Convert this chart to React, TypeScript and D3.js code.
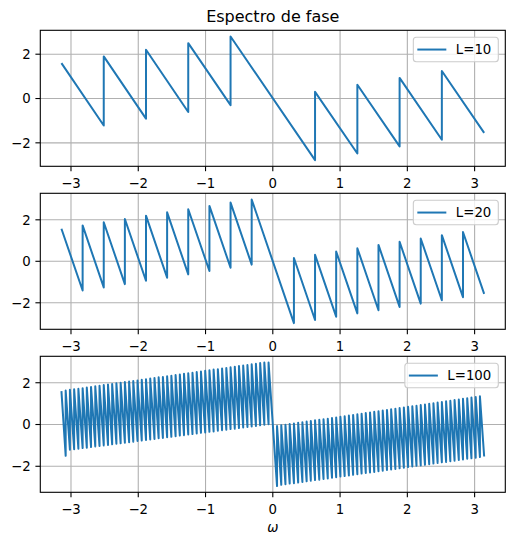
import React from "react";
import * as d3 from "d3";

// ---------- data ----------
const TITLE = "Espectro de fase";
const X_LABEL = "ω";
const X_TICKS = [-3, -2, -1, 0, 1, 2, 3];
const Y_TICKS = [-2, 0, 2];
const SERIES_LABELS = ["L=10", "L=20", "L=100"];

// L=10: segment boundaries (jump positions), value at start and end of each segment
const BREAKS_L10 = [-3.142, -2.513, -1.885, -1.257, -0.628, 0.628, 1.257, 1.885, 2.513, 3.142];
const TOPS_L10 = [1.6, 1.9, 2.2, 2.5, 2.8, 0.3, 0.62, 0.93, 1.24];
const BOTTOMS_L10 = [-1.22, -0.91, -0.61, -0.3, -2.78, -2.48, -2.16, -1.86, -1.55];

// L=20
const BREAKS_L20 = [
  -3.142, -2.827, -2.513, -2.199, -1.885, -1.571, -1.257, -0.942, -0.628, -0.314,
  0.314, 0.628, 0.942, 1.257, 1.571, 1.885, 2.199, 2.513, 2.827, 3.142,
];
const TOPS_L20 = [
  1.57, 1.73, 1.88, 2.04, 2.2, 2.36, 2.51, 2.67, 2.83, 2.98,
  0.16, 0.31, 0.47, 0.63, 0.79, 0.94, 1.1, 1.26, 1.41,
];
const BOTTOMS_L20 = [
  -1.41, -1.26, -1.1, -0.94, -0.79, -0.63, -0.47, -0.31, -0.16, -2.98,
  -2.83, -2.67, -2.51, -2.36, -2.2, -2.04, -1.88, -1.73, -1.57,
];

// L=100
const BREAKS_L100 = [
  -3.142, -3.079, -3.016, -2.953, -2.890, -2.827, -2.765, -2.702, -2.639, -2.576,
  -2.513, -2.450, -2.388, -2.325, -2.262, -2.199, -2.136, -2.074, -2.011, -1.948,
  -1.885, -1.822, -1.759, -1.697, -1.634, -1.571, -1.508, -1.445, -1.382, -1.320,
  -1.257, -1.194, -1.131, -1.068, -1.005, -0.942, -0.880, -0.817, -0.754, -0.691,
  -0.628, -0.565, -0.503, -0.440, -0.377, -0.314, -0.251, -0.188, -0.126, -0.063,
  0.063, 0.126, 0.188, 0.251, 0.314, 0.377, 0.440, 0.503, 0.565, 0.628,
  0.691, 0.754, 0.817, 0.880, 0.942, 1.005, 1.068, 1.131, 1.194, 1.257,
  1.320, 1.382, 1.445, 1.508, 1.571, 1.634, 1.697, 1.759, 1.822, 1.885,
  1.948, 2.011, 2.074, 2.136, 2.199, 2.262, 2.325, 2.388, 2.450, 2.513,
  2.576, 2.639, 2.702, 2.765, 2.827, 2.890, 2.953, 3.016, 3.079, 3.142,
];
const TOPS_L100 = [
  1.60, 1.63, 1.66, 1.69, 1.71, 1.74, 1.77, 1.80, 1.83, 1.86,
  1.89, 1.91, 1.94, 1.97, 2.00, 2.03, 2.06, 2.08, 2.11, 2.14,
  2.17, 2.20, 2.23, 2.26, 2.28, 2.31, 2.34, 2.37, 2.40, 2.43,
  2.45, 2.48, 2.51, 2.54, 2.57, 2.60, 2.63, 2.65, 2.68, 2.71,
  2.74, 2.77, 2.80, 2.82, 2.85, 2.88, 2.91, 2.94, 2.97,
  2.97,
  -0.07, -0.04, -0.01, 0.02, 0.05, 0.08, 0.11, 0.14, 0.17, 0.20,
  0.23, 0.25, 0.28, 0.31, 0.34, 0.37, 0.40, 0.43, 0.46, 0.49,
  0.52, 0.55, 0.58, 0.61, 0.64, 0.67, 0.70, 0.73, 0.76, 0.79,
  0.82, 0.85, 0.87, 0.90, 0.93, 0.96, 0.99, 1.02, 1.05, 1.08,
  1.11, 1.14, 1.17, 1.20, 1.23, 1.26, 1.29, 1.32, 1.35,
];
const BOTTOMS_L100 = [
  -1.50, -1.21, -1.18, -1.16, -1.13, -1.11, -1.08, -1.05, -1.03, -1.00,
  -0.98, -0.95, -0.92, -0.90, -0.87, -0.85, -0.82, -0.79, -0.77, -0.74,
  -0.72, -0.69, -0.66, -0.64, -0.61, -0.59, -0.56, -0.53, -0.51, -0.48,
  -0.46, -0.43, -0.40, -0.38, -0.35, -0.33, -0.30, -0.27, -0.25, -0.22,
  -0.20, -0.17, -0.14, -0.12, -0.09, -0.07, -0.04, -0.01, 0.01,
  -2.95,
  -2.89, -2.86, -2.83, -2.81, -2.78, -2.75, -2.72, -2.69, -2.66, -2.64,
  -2.61, -2.58, -2.55, -2.52, -2.49, -2.47, -2.44, -2.41, -2.38, -2.35,
  -2.32, -2.30, -2.27, -2.24, -2.21, -2.18, -2.15, -2.13, -2.10, -2.07,
  -2.04, -2.01, -1.98, -1.96, -1.93, -1.90, -1.87, -1.84, -1.81, -1.79,
  -1.76, -1.73, -1.70, -1.67, -1.64, -1.62, -1.59, -1.56, -1.53,
];

const PANELS = [
  { label: SERIES_LABELS[0], breaks: BREAKS_L10, tops: TOPS_L10, bottoms: BOTTOMS_L10 },
  { label: SERIES_LABELS[1], breaks: BREAKS_L20, tops: TOPS_L20, bottoms: BOTTOMS_L20 },
  { label: SERIES_LABELS[2], breaks: BREAKS_L100, tops: TOPS_L100, bottoms: BOTTOMS_L100 },
];

// ---------- layout & style ----------
const W = 515;
const H = 545;
const AX_LEFT = 40.3;
const AX_RIGHT = 505.3;
const AX_TOPS = [30.3, 193.3, 356.3];
const AX_H = 136;
const FONT = "'DejaVu Sans', sans-serif";
const FS = 13.3;
const TITLE_FS = 16;
const BLUE = "#1f77b4";
const GRID = "#b0b0b0";
const LW = 2.0;

const ADV: Record<string, number> = {
  L: 0.557, "=": 0.838, "0": 0.636, "1": 0.636, "2": 0.636, "3": 0.636,
  "4": 0.636, "5": 0.636, "6": 0.636, "7": 0.636, "8": 0.636, "9": 0.636,
};
const textWidth = (s: string, fs: number) =>
  s.split("").reduce((a, c) => a + (ADV[c] ?? 0.6), 0) * fs;

function Panel({ idx, panel, showXLabel }: any) {
  const top = AX_TOPS[idx];
  const bottom = top + AX_H;
  const { breaks, tops, bottoms, label } = panel;

  const x0 = breaks[0];
  const x1 = breaks[breaks.length - 1];
  const xPad = (x1 - x0) * 0.05;
  const x = d3.scaleLinear().domain([x0 - xPad, x1 + xPad]).range([AX_LEFT, AX_RIGHT]);

  const allY = [...tops, ...bottoms];
  const [yMin, yMax] = d3.extent(allY) as [number, number];
  const yPad = (yMax - yMin) * 0.05;
  const y = d3.scaleLinear().domain([yMin - yPad, yMax + yPad]).range([bottom, top]);

  const pts: [number, number][] = [];
  for (let i = 0; i < tops.length; i++) {
    pts.push([breaks[i], tops[i]]);
    pts.push([breaks[i + 1], bottoms[i]]);
  }
  const line = d3
    .line<[number, number]>()
    .x((d) => x(d[0]))
    .y((d) => y(d[1]));

  // legend
  const boxRight = AX_RIGHT - 7;
  const boxTop = top + 7;
  const boxH = 24.5;
  const tw = textWidth(label, FS);
  const textEnd = boxRight - 7;
  const textStart = textEnd - tw;
  const lineEnd = textStart - 9.5;
  const lineStart = lineEnd - 29;
  const boxLeft = lineStart - 4;
  const cy = boxTop + boxH / 2;

  const clipId = `clip${idx}`;

  return (
    <g>
      <defs>
        <clipPath id={clipId}>
          <rect x={AX_LEFT} y={top} width={AX_RIGHT - AX_LEFT} height={AX_H} />
        </clipPath>
      </defs>
      {/* grid */}
      {X_TICKS.map((t) => (
        <line key={"gx" + t} x1={x(t)} x2={x(t)} y1={top} y2={bottom} stroke={GRID} strokeWidth={1.1} />
      ))}
      {Y_TICKS.map((t) => (
        <line key={"gy" + t} x1={AX_LEFT} x2={AX_RIGHT} y1={y(t)} y2={y(t)} stroke={GRID} strokeWidth={1.1} />
      ))}
      {/* data */}
      <path
        d={line(pts) || ""}
        fill="none"
        stroke={BLUE}
        strokeWidth={LW}
        strokeLinejoin="round"
        clipPath={`url(#${clipId})`}
      />
      {/* spines */}
      <rect x={AX_LEFT} y={top} width={AX_RIGHT - AX_LEFT} height={AX_H} fill="none" stroke="#000" strokeWidth={1.1} />
      {/* x ticks */}
      {X_TICKS.map((t) => (
        <g key={"tx" + t}>
          <line x1={x(t)} x2={x(t)} y1={bottom} y2={bottom + 4.9} stroke="#000" strokeWidth={1.1} />
          <text x={x(t)} y={bottom + 21.2} textAnchor="middle" fontFamily={FONT} fontSize={FS} fill="#000">
            {t < 0 ? "\u2212" + Math.abs(t) : String(t)}
          </text>
        </g>
      ))}
      {/* y ticks */}
      {Y_TICKS.map((t) => (
        <g key={"ty" + t}>
          <line x1={AX_LEFT - 4.9} x2={AX_LEFT} y1={y(t)} y2={y(t)} stroke="#000" strokeWidth={1.1} />
          <text x={AX_LEFT - 9.7} y={y(t) + 4.8} textAnchor="end" fontFamily={FONT} fontSize={FS} fill="#000">
            {t < 0 ? "\u2212" + Math.abs(t) : String(t)}
          </text>
        </g>
      ))}
      {/* legend */}
      <rect
        x={boxLeft}
        y={boxTop}
        width={boxRight - boxLeft}
        height={boxH}
        rx={3}
        fill="#ffffff"
        fillOpacity={0.8}
        stroke="#cccccc"
        strokeWidth={1.1}
      />
      <line x1={lineStart} x2={lineEnd} y1={cy} y2={cy} stroke={BLUE} strokeWidth={LW} />
      <text x={textStart} y={cy + 4.8} fontFamily={FONT} fontSize={FS} fill="#000">
        {label}
      </text>
      {showXLabel && (
        <text
          x={(AX_LEFT + AX_RIGHT) / 2}
          y={531.5}
          textAnchor="middle"
          fontFamily={FONT}
          fontStyle="italic"
          fontSize={FS}
          fill="#000"
        >
          {X_LABEL}
        </text>
      )}
    </g>
  );
}

export default function App() {
  return (
    <svg
      width={W}
      height={H}
      viewBox={`0 0 ${W} ${H}`}
      style={{ position: "absolute", left: 0, top: 0, background: "#fff" }}
    >
      <rect x={0} y={0} width={W} height={H} fill="#fff" />
      <text
        x={(AX_LEFT + AX_RIGHT) / 2}
        y={22.3}
        textAnchor="middle"
        fontFamily={FONT}
        fontSize={TITLE_FS}
        fill="#000"
      >
        {TITLE}
      </text>
      {PANELS.map((p, i) => (
        <Panel key={i} idx={i} panel={p} showXLabel={i === PANELS.length - 1} />
      ))}
    </svg>
  );
}
